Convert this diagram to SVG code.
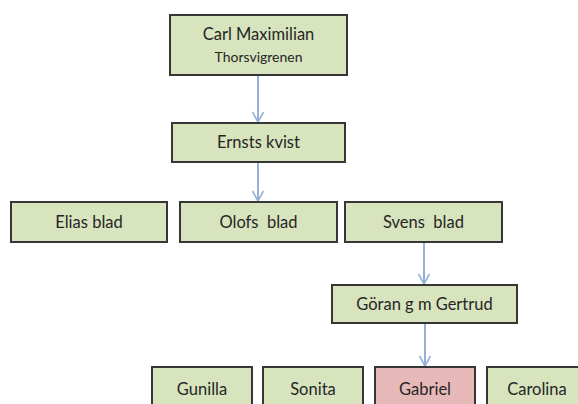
<svg xmlns="http://www.w3.org/2000/svg" width="578" height="404" viewBox="0 0 578 404">
<style>
.n rect{fill:#d7e4bd;stroke:#363636;stroke-width:2}
.n.p rect{fill:#e6b9b8}
.n text{font-family:Lato,"Liberation Sans",Arial,sans-serif;font-size:16.5px;fill:#262626;text-anchor:middle;white-space:pre}
.c path{stroke:#95b1d8;stroke-width:2;fill:none}
</style>
<defs>
<marker id="ah" viewBox="0 0 12 12" refX="11" refY="6" markerWidth="12" markerHeight="12" markerUnits="userSpaceOnUse" orient="auto">
<path d="M1,0.5 L11,6 L1,11.5" fill="none" stroke="#95b1d8" stroke-width="1.6"/>
</marker>
</defs>
<rect width="578" height="404" fill="#fff"/>
<g class="c">
<path d="M258,76 V122" marker-end="url(#ah)"/>
<path d="M258,163 V201" marker-end="url(#ah)"/>
<path d="M424,243 V284" marker-end="url(#ah)"/>
<path d="M425,324 V366" marker-end="url(#ah)"/>
</g>
<g id="carl" class="n"><rect x="170" y="15" width="177" height="60"/><text x="258.500" y="40">Carl Maximilian</text><text x="258.500" y="62" style="font-size:14px">Thorsvigrenen</text></g>
<g id="ernst" class="n"><rect x="172" y="123" width="173" height="39"/><text x="258.500" y="148">Ernsts kvist</text></g>
<g id="elias" class="n"><rect x="11" y="202" width="156" height="40"/><text x="89" y="228">Elias blad</text></g>
<g id="olof" class="n"><rect x="180" y="202" width="157" height="40"/><text x="258.500" y="228" xml:space="preserve">Olofs  blad</text></g>
<g id="sven" class="n"><rect x="345" y="202" width="157" height="40"/><text x="423.500" y="228" xml:space="preserve">Svens  blad</text></g>
<g id="goran" class="n"><rect x="332" y="285" width="185" height="38"/><text x="424.500" y="310">Göran g m Gertrud</text></g>
<g id="gunilla" class="n"><rect x="152" y="367" width="100" height="45"/><text x="202" y="395">Gunilla</text></g>
<g id="sonita" class="n"><rect x="263" y="367" width="100" height="45"/><text x="313" y="395">Sonita</text></g>
<g id="gabriel" class="n p"><rect x="375" y="367" width="100" height="45"/><text x="425" y="395">Gabriel</text></g>
<g id="carolina" class="n"><rect x="487" y="367" width="100" height="45"/><text x="537" y="395">Carolina</text></g>
</svg>
